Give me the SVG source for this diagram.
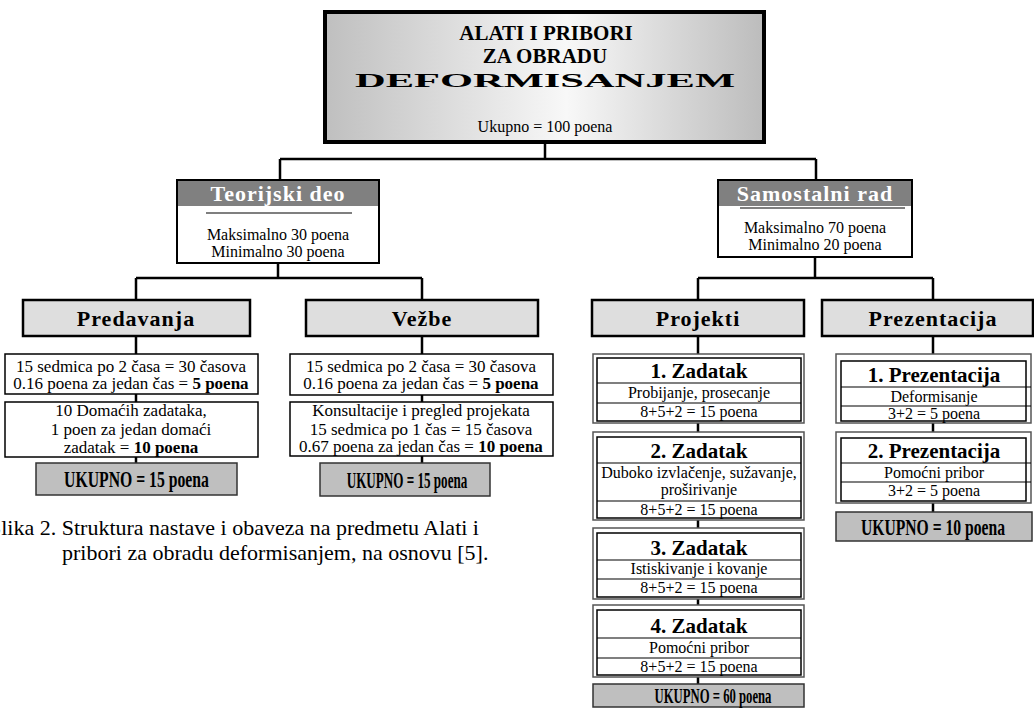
<svg xmlns="http://www.w3.org/2000/svg" width="1034" height="711" viewBox="0 0 1034 711">
  <defs>
    <linearGradient id="titleFill" x1="0" y1="0" x2="1" y2="0">
      <stop offset="0" stop-color="#bfbfbf"/>
      <stop offset="0.55" stop-color="#f8f8f8"/>
      <stop offset="1" stop-color="#bcbcbc"/>
    </linearGradient>
  </defs>
  <style>
    text { font-family: "Liberation Serif", "Times New Roman", serif; fill: #000; }
    .c { text-anchor: middle; }
    .b { font-weight: bold; }
    .body { font-size: 17px; }
    .mid { font-size: 16px; }
    .head { font-size: 22px; font-weight: bold; letter-spacing: 1px; }
    .card-title { font-size: 21px; font-weight: bold; }
    .tot { font-size: 24px; font-weight: bold; text-anchor: middle; }
    .conn { fill: none; stroke: #000; stroke-width: 2.5; }
    .section-box { fill: #fff; stroke: #000; stroke-width: 2; }
    .section-head { fill: #808080; }
    .cat { fill: #dedede; stroke: #000; stroke-width: 2.5; }
    .info { fill: #fff; stroke: #000; stroke-width: 1.5; }
    .total { fill: #bfbfbf; stroke: #333; stroke-width: 1.5; }
    .card-outer { fill: #fff; stroke: #555; stroke-width: 1.5; }
    .card-inner { fill: #fff; stroke: #000; stroke-width: 1.5; }
    .rule { stroke: #000; stroke-width: 1.2; }
  </style>

  <!-- connectors -->
  <g id="connectors">
    <path class="conn" d="M545,142 V159 M280,159 H816 M280,159 V180 M816,159 V180"/>
    <path class="conn" d="M278,263 V278 M136,278 H422 M136,278 V300 M422,278 V300"/>
    <path class="conn" d="M815,257 V278 M698,278 H933 M698,278 V300 M933,278 V300"/>
    <path class="conn" d="M136,336 V354 M136,394 V402 M136,457 V463"/>
    <path class="conn" d="M422,336 V354 M422,395 V402 M422,456 V463"/>
    <path class="conn" d="M698,336 V354 M698,423 V432 M698,520 V528 M698,599 V605 M698,677 V684"/>
    <path class="conn" d="M933,336 V354 M933,423 V432 M933,503 V512"/>
  </g>

  <!-- root -->
  <g id="root">
    <rect x="325" y="12" width="439" height="130" fill="url(#titleFill)" stroke="#000" stroke-width="4"/>
    <text class="c b" x="546" y="40" font-size="21">ALATI I PRIBORI</text>
    <text class="c b" x="545" y="63" font-size="21">ZA OBRADU</text>
    <text class="b" x="355" y="87" font-size="19" textLength="380" lengthAdjust="spacingAndGlyphs">DEFORMISANJEM</text>
    <text class="c mid" x="545" y="132">Ukupno = 100 poena</text>
  </g>

  <!-- theory -->
  <g id="teorijski-deo">
    <rect class="section-box" x="177" y="180" width="202" height="83"/>
    <rect class="section-head" x="178" y="181" width="200" height="25"/>
    <text class="c head" x="278" y="201" style="fill:#fff">Teorijski deo</text>
    <line class="rule" x1="206" y1="213" x2="352" y2="213"/>
    <text class="c mid" x="278" y="240">Maksimalno 30 poena</text>
    <text class="c mid" x="278" y="257">Minimalno 30 poena</text>
  </g>

  <!-- independent work -->
  <g id="samostalni-rad">
    <rect class="section-box" x="718" y="180" width="194" height="77"/>
    <rect class="section-head" x="719" y="181" width="192" height="25"/>
    <text class="c head" x="815" y="201" style="fill:#fff">Samostalni rad</text>
    <line class="rule" x1="740" y1="208" x2="905" y2="208"/>
    <text class="c mid" x="815" y="233">Maksimalno 70 poena</text>
    <text class="c mid" x="815" y="250">Minimalno 20 poena</text>
  </g>

  <!-- lectures -->
  <g id="predavanja">
    <rect class="cat" x="23" y="300" width="227" height="36"/>
    <text class="c head" x="136" y="326">Predavanja</text>
    <rect class="info" x="5" y="354" width="253" height="40"/>
    <text class="c body" x="131" y="372">15 sedmica po 2 časa = 30 časova</text>
    <text class="c body" x="131" y="389">0.16 poena za jedan čas = <tspan class="b">5 poena</tspan></text>
    <rect class="info" x="5" y="402" width="253" height="55"/>
    <text class="c body" x="131" y="416">10 Domaćih zadataka,</text>
    <text class="c body" x="131" y="435">1 poen za jedan domaći</text>
    <text class="c body" x="131" y="453">zadatak = <tspan class="b">10 poena</tspan></text>
    <rect class="total" x="36" y="463" width="201" height="32"/>
    <text class="tot" transform="translate(136.5,487) scale(0.656,1)">UKUPNO = 15 poena</text>
  </g>

  <!-- exercises -->
  <g id="vezbe">
    <rect class="cat" x="306" y="300" width="232" height="36"/>
    <text class="c head" x="422" y="326">Vežbe</text>
    <rect class="info" x="290" y="354" width="263" height="41"/>
    <text class="c body" x="421" y="372">15 sedmica po 2 časa = 30 časova</text>
    <text class="c body" x="421" y="389">0.16 poena za jedan čas = <tspan class="b">5 poena</tspan></text>
    <rect class="info" x="290" y="402" width="263" height="54"/>
    <text class="c body" x="421" y="416">Konsultacije i pregled projekata</text>
    <text class="c body" x="421" y="435">15 sedmica po 1 čas = 15 časova</text>
    <text class="c body" x="421" y="452">0.67 poena za jedan čas = <tspan class="b">10 poena</tspan></text>
    <rect class="total" x="320" y="463" width="170" height="33"/>
    <text class="tot" transform="translate(407,488) scale(0.546,1)">UKUPNO = 15 poena</text>
  </g>

  <!-- projects -->
  <g id="projekti">
    <rect class="cat" x="592" y="300" width="212" height="36"/>
    <text class="c head" x="698" y="326">Projekti</text>

    <rect class="card-outer" x="593" y="354" width="211" height="69"/>
    <rect class="card-inner" x="597" y="358" width="204" height="63"/>
    <text class="c card-title" x="699" y="378">1. Zadatak</text>
    <line class="rule" x1="597" y1="383" x2="801" y2="383"/>
    <text class="c mid" x="699" y="398">Probijanje, prosecanje</text>
    <line class="rule" x1="597" y1="403" x2="801" y2="403"/>
    <text class="c mid" x="699" y="417">8+5+2 = 15 poena</text>

    <rect class="card-outer" x="593" y="432" width="211" height="88"/>
    <rect class="card-inner" x="597" y="437" width="204" height="81"/>
    <text class="c card-title" x="699" y="458">2. Zadatak</text>
    <line class="rule" x1="597" y1="463" x2="801" y2="463"/>
    <text class="c mid" x="699" y="478">Duboko izvlačenje, sužavanje,</text>
    <text class="c mid" x="699" y="495">proširivanje</text>
    <line class="rule" x1="597" y1="501" x2="801" y2="501"/>
    <text class="c mid" x="699" y="515">8+5+2 = 15 poena</text>

    <rect class="card-outer" x="593" y="528" width="211" height="71"/>
    <rect class="card-inner" x="597" y="533" width="204" height="64"/>
    <text class="c card-title" x="699" y="555">3. Zadatak</text>
    <line class="rule" x1="597" y1="560" x2="801" y2="560"/>
    <text class="c mid" x="699" y="574">Istiskivanje i kovanje</text>
    <line class="rule" x1="597" y1="579" x2="801" y2="579"/>
    <text class="c mid" x="699" y="593">8+5+2 = 15 poena</text>

    <rect class="card-outer" x="593" y="605" width="211" height="72"/>
    <rect class="card-inner" x="597" y="610" width="204" height="65"/>
    <text class="c card-title" x="699" y="633">4. Zadatak</text>
    <line class="rule" x1="597" y1="638" x2="801" y2="638"/>
    <text class="c mid" x="699" y="653">Pomoćni pribor</text>
    <line class="rule" x1="597" y1="658" x2="801" y2="658"/>
    <text class="c mid" x="699" y="672">8+5+2 = 15 poena</text>

    <rect class="total" x="593" y="684" width="211" height="23"/>
    <text class="tot" style="font-size:22px" transform="translate(713,703) scale(0.577,1)">UKUPNO = 60 poena</text>
  </g>

  <!-- presentations -->
  <g id="prezentacija">
    <rect class="cat" x="822" y="300" width="211" height="36"/>
    <text class="c head" x="933" y="326">Prezentacija</text>

    <rect class="card-outer" x="836" y="354" width="195" height="69"/>
    <rect class="card-inner" x="841" y="361" width="185" height="60"/>
    <text class="c card-title" x="934" y="382">1. Prezentacija</text>
    <line class="rule" x1="841" y1="387" x2="1031" y2="387"/>
    <text class="c mid" x="934" y="402">Deformisanje</text>
    <line class="rule" x1="841" y1="406" x2="1031" y2="406"/>
    <text class="c mid" x="934" y="419">3+2 = 5 poena</text>

    <rect class="card-outer" x="836" y="432" width="195" height="71"/>
    <rect class="card-inner" x="841" y="438" width="185" height="63"/>
    <text class="c card-title" x="934" y="458">2. Prezentacija</text>
    <line class="rule" x1="841" y1="463" x2="1031" y2="463"/>
    <text class="c mid" x="934" y="478">Pomoćni pribor</text>
    <line class="rule" x1="841" y1="482" x2="1031" y2="482"/>
    <text class="c mid" x="934" y="496">3+2 = 5 poena</text>

    <rect class="total" x="836" y="512" width="196" height="29"/>
    <text class="tot" transform="translate(933,535) scale(0.652,1)">UKUPNO = 10 poena</text>
  </g>

  <!-- figure caption, left edge trimmed by the frame -->
  <g id="caption">
    <text x="-11" y="535" font-size="22">Slika 2. Struktura nastave i obaveza na predmetu Alati i</text>
    <text x="62" y="560" font-size="22">pribori za obradu deformisanjem, na osnovu [5].</text>
  </g>
</svg>
